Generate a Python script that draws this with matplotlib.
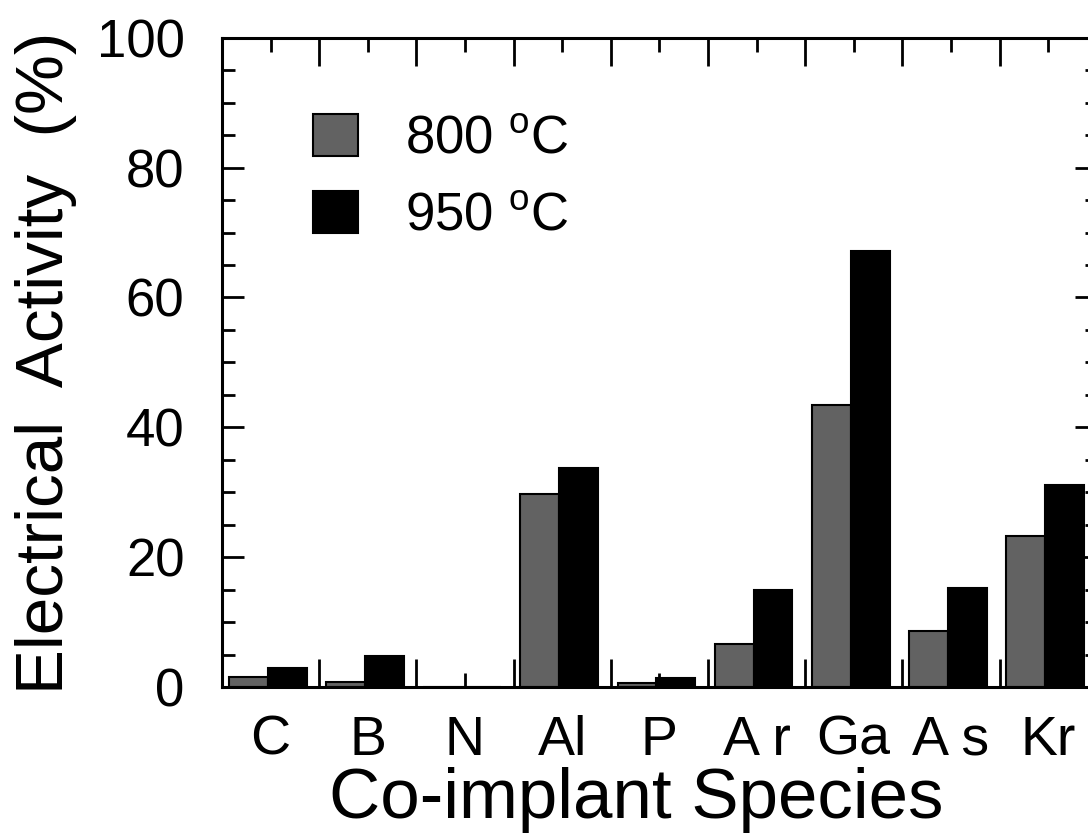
import matplotlib
matplotlib.use("Agg")
import matplotlib.pyplot as plt
import numpy as np

# dados
especies = ["C", "B", "N", "Al", "P", "A r", "Ga", "A s", "Kr"]
atividade_800 = [1.5, 0.8, 0.1, 29.8, 0.6, 6.6, 43.4, 8.6, 23.2]
atividade_950 = [3.0, 4.8, 0.1, 33.7, 1.4, 15.0, 67.2, 15.2, 31.2]
legendas = ["800 $^{\\mathrm{o}}$C", "950 $^{\\mathrm{o}}$C"]

plt.rcParams['font.family'] = ['Liberation Sans', 'DejaVu Sans']
plt.rcParams['mathtext.fontset'] = 'custom'
plt.rcParams['mathtext.rm'] = 'Liberation Sans'

fig = plt.figure(figsize=(10.88, 8.38), dpi=100)
ax = fig.add_axes([0.204, 0.180, 0.804, 0.775])

posicoes = np.arange(len(especies))
centro = posicoes + 0.47
largura = 0.4

ax.bar(centro - largura / 2, atividade_800, largura, color='#626262',
       edgecolor='black', linewidth=1.5, label=legendas[0])
ax.bar(centro + largura / 2, atividade_950, largura, color='black',
       edgecolor='black', linewidth=1.5, label=legendas[1])

ax.set_xlim(0, len(especies))
ax.set_ylim(0, 100)

# ticks: limites dos grupos (longos) e centros (curtos, com rotulo)
ax.set_xticks(np.arange(len(especies) + 1))
ax.set_xticklabels([])
ax.set_xticks(posicoes + 0.5, especies, minor=True)
ax.set_yticks(np.arange(0, 101, 20))
ax.set_yticks(np.arange(0, 101, 5), minor=True)

ax.tick_params(axis='both', which='both', direction='in', top=True, right=True, width=2)
ax.tick_params(axis='x', which='major', length=20)
ax.tick_params(axis='x', which='minor', length=10, labelsize=40, pad=20)
ax.tick_params(axis='y', which='major', length=16, labelsize=38, pad=27)
ax.tick_params(axis='y', which='minor', length=9)

for lado in ax.spines.values():
    lado.set_linewidth(2.2)

ax.set_xlabel("Co-implant Species", fontsize=51, labelpad=0, x=0.474)
ax.set_ylabel("Electrical  Activity  (%)", fontsize=48.5, labelpad=14)

ax.legend(loc='upper left', bbox_to_anchor=(0.08, 0.915), frameon=False,
          fontsize=38, handlelength=0.85, handleheight=0.85, handletextpad=0.9,
          labelspacing=0.5, borderaxespad=0)

fig.savefig("out.png", dpi=100)
